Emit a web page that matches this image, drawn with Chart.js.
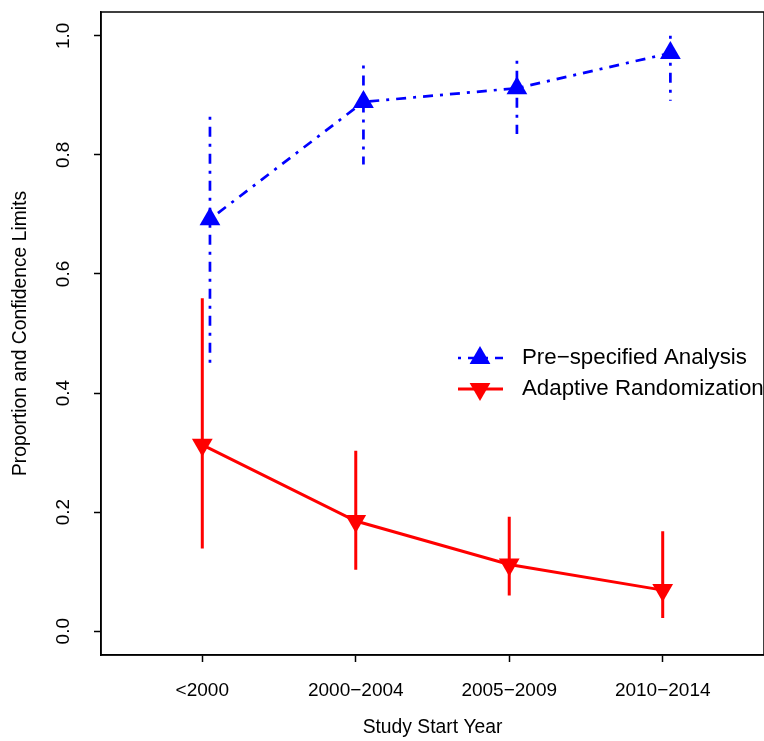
<!DOCTYPE html>
<html>
<head>
<meta charset="utf-8">
<script src="https://cdn.jsdelivr.net/npm/chart.js@4.4.1/dist/chart.umd.min.js"></script>
<style>
  html, body { margin: 0; padding: 0; background: #fff; overflow: hidden; }
  .chart-wrap { position: relative; width: 776px; height: 741px; }
</style>
</head>
<body>
<div class="chart-wrap"><canvas id="yearChart"></canvas></div>
<script>
// categories and tick labels
const periods = ["<2000", "2000\u22122004", "2005\u22122009", "2010\u22122014"];
const yTicks = [0, 0.2, 0.4, 0.6, 0.8, 1.0];

// pre-specified analysis: proportion + confidence limits
const preSpecified = [0.692, 0.889, 0.912, 0.971];
const preSpecifiedLower = [0.440, 0.784, 0.835, 0.891];
const preSpecifiedUpper = [0.864, 0.950, 0.958, 1.000];

// adaptive randomization: proportion + confidence limits
const adaptive = [0.313, 0.185, 0.112, 0.069];
const adaptiveLower = [0.139, 0.103, 0.060, 0.022];
const adaptiveUpper = [0.559, 0.303, 0.192, 0.168];

const BLUE = "#0000ff";
const RED = "#ff0000";
const blueDash = [3, 7, 10, 7];
const preOffset = 0.05; // blue series sits a bit right of the tick
const markerR = 12;

Chart.defaults.font.family = '"Liberation Sans", Arial, Helvetica, sans-serif';
Chart.defaults.color = "#000";

const xPos = (i, off) => i + 1 + off;

function seriesPoints(vals, off) {
  return vals.map((v, i) => ({ x: xPos(i, off), y: v }));
}

// vertical CI segments, separated by gaps
function ciPoints(lower, upper, off) {
  const pts = [];
  lower.forEach((lo, i) => {
    pts.push({ x: xPos(i, off), y: upper[i] });
    pts.push({ x: xPos(i, off), y: lo });
    pts.push({ x: xPos(i, off), y: null });
  });
  return pts;
}

function drawTriangle(ctx, x, y, r, down) {
  const s = down ? -1 : 1;
  ctx.beginPath();
  ctx.moveTo(x, y - s * r);
  ctx.lineTo(x + r * Math.sin(Math.PI / 3), y + s * r / 2);
  ctx.lineTo(x - r * Math.sin(Math.PI / 3), y + s * r / 2);
  ctx.closePath();
  ctx.fill();
}

const boxPlugin = {
  id: "rBox",
  afterDraw(chart) {
    const { ctx, chartArea: a } = chart;
    ctx.save();
    ctx.strokeStyle = "#000";
    ctx.lineWidth = 1.5;
    ctx.strokeRect(a.left, a.top, a.right - a.left, a.bottom - a.top);
    ctx.restore();
  }
};

const legendPlugin = {
  id: "rLegend",
  afterDraw(chart) {
    const ctx = chart.ctx;
    const rows = [
      { label: "Pre\u2212specified Analysis", color: BLUE, dash: blueDash, width: 2.7, down: false, y: 358 },
      { label: "Adaptive Randomization", color: RED, dash: [], width: 3, down: true, y: 389 }
    ];
    ctx.save();
    rows.forEach(row => {
      ctx.strokeStyle = row.color;
      ctx.fillStyle = row.color;
      ctx.lineWidth = row.width;
      ctx.setLineDash(row.dash);
      ctx.beginPath();
      ctx.moveTo(458, row.y);
      ctx.lineTo(503, row.y);
      ctx.stroke();
      ctx.setLineDash([]);
      drawTriangle(ctx, 480, row.y, markerR, row.down);
      ctx.fillStyle = "#000";
      ctx.font = '22.3px "Liberation Sans", Arial, sans-serif';
      ctx.textBaseline = "middle";
      ctx.textAlign = "left";
      ctx.fillText(row.label, 522, row.y);
    });
    ctx.restore();
  }
};

const axisGrid = {
  display: true,
  drawOnChartArea: false,
  drawTicks: true,
  tickLength: 7,
  tickWidth: 1.5,
  tickColor: "#000"
};
const axisBorder = { display: true, color: "#000", width: 1.5 };

new Chart(document.getElementById("yearChart"), {
  type: "line",
  data: {
    datasets: [
      {
        label: "Pre-specified CI",
        data: ciPoints(preSpecifiedLower, preSpecifiedUpper, preOffset),
        borderColor: BLUE,
        borderWidth: 2.7,
        borderDash: blueDash,
        pointRadius: 0,
        spanGaps: false
      },
      {
        label: "Pre-specified Analysis",
        data: seriesPoints(preSpecified, preOffset),
        borderColor: BLUE,
        backgroundColor: BLUE,
        borderWidth: 2.7,
        borderDash: blueDash,
        pointStyle: "triangle",
        pointRadius: markerR,
        pointBorderWidth: 0,
        pointBackgroundColor: BLUE
      },
      {
        label: "Adaptive CI",
        data: ciPoints(adaptiveLower, adaptiveUpper, 0),
        borderColor: RED,
        borderWidth: 3,
        pointRadius: 0,
        spanGaps: false
      },
      {
        label: "Adaptive Randomization",
        data: seriesPoints(adaptive, 0),
        borderColor: RED,
        backgroundColor: RED,
        borderWidth: 3,
        pointStyle: "triangle",
        pointRotation: 180,
        pointRadius: markerR,
        pointBorderWidth: 0,
        pointBackgroundColor: RED
      }
    ]
  },
  options: {
    responsive: true,
    maintainAspectRatio: false,
    animation: false,
    devicePixelRatio: 1,
    layout: { padding: { left: 0, top: 10, right: 6, bottom: 0 } },
    plugins: {
      legend: { display: false },
      tooltip: { enabled: false }
    },
    elements: { line: { tension: 0, fill: false } },
    scales: {
      x: {
        type: "linear",
        min: 0.34,
        max: 4.66,
        afterBuildTicks: s => { s.ticks = periods.map((_, i) => ({ value: i + 1 })); },
        afterFit: s => { s.height = 86; s.paddingLeft = 0; s.paddingRight = 0; },
        grid: axisGrid,
        border: axisBorder,
        ticks: {
          color: "#000",
          font: { size: 19 },
          padding: 17,
          maxRotation: 0,
          autoSkip: false,
          callback: v => periods[Math.round(v) - 1]
        },
        title: {
          display: true,
          text: "Study Start Year",
          color: "#000",
          font: { size: 19.3 },
          padding: { top: 0, bottom: 2 }
        }
      },
      y: {
        type: "linear",
        min: -0.04,
        max: 1.04,
        afterBuildTicks: s => { s.ticks = yTicks.map(v => ({ value: v })); },
        afterFit: s => { s.width = 101; s.paddingTop = 0; s.paddingBottom = 0; },
        grid: axisGrid,
        border: axisBorder,
        ticks: {
          color: "#000",
          font: { size: 19 },
          padding: 17,
          minRotation: 90,
          maxRotation: 90,
          crossAlign: "center",
          callback: v => Number(v).toFixed(1)
        },
        title: {
          display: true,
          text: "Proportion and Confidence Limits",
          color: "#000",
          font: { size: 19.3 },
          padding: { top: 9, bottom: 0 }
        }
      }
    }
  },
  plugins: [boxPlugin, legendPlugin]
});
</script>
</body>
</html>
